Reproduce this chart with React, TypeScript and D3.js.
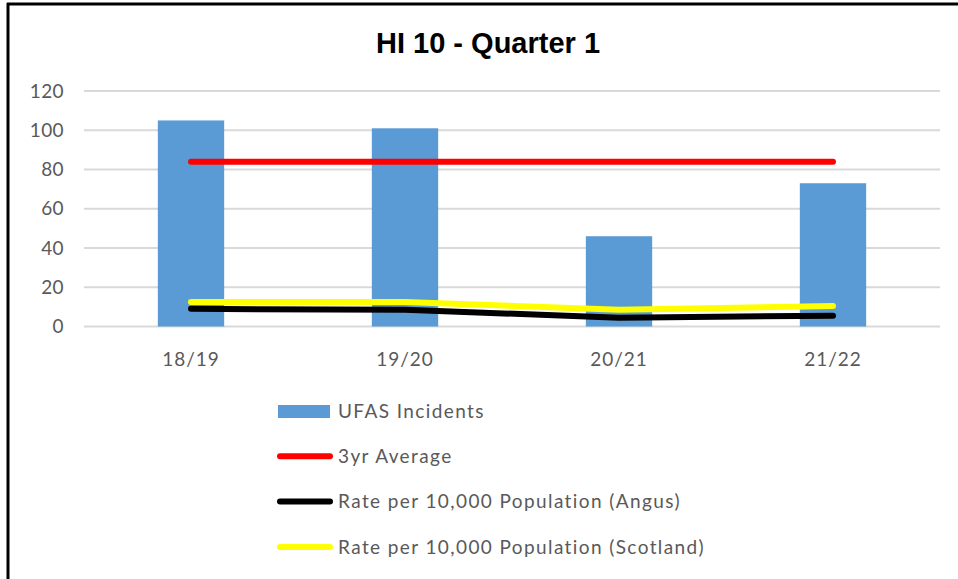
import * as d3 from 'd3'

const categories = ['18/19', '19/20', '20/21', '21/22']
const ufasIncidents = [105, 101, 46, 73]
const threeYrAverage = [84, 84, 84, 84]
const rateAngus = [9, 8.5, 4.5, 5.5]
const rateScotland = [12.5, 12.5, 8.5, 10.5]
const yTicks = [0, 20, 40, 60, 80, 100, 120]

const legendItems = [
  { label: 'UFAS Incidents', kind: 'bar', color: '#5B9BD5' },
  { label: '3yr Average', kind: 'line', color: '#FF0000' },
  { label: 'Rate per 10,000 Population (Angus)', kind: 'line', color: '#000000' },
  { label: 'Rate per 10,000 Population (Scotland)', kind: 'line', color: '#FFFF00' }
]

const App = () => {
  const width = 958
  const height = 579
  const plot = { left: 84, right: 940, top: 91, bottom: 326.5 }

  const x = d3.scaleBand().domain(categories).range([plot.left, plot.right]).paddingInner(0.69).paddingOuter(0.345)
  const y = d3.scaleLinear().domain([0, 120]).range([plot.bottom, plot.top])
  const cx = (c: string) => (x(c) as number) + x.bandwidth() / 2

  const line = d3.line<number>()
    .x((_, i) => cx(categories[i]))
    .y(d => y(d))

  const font = 'Lato, "Open Sans", sans-serif'

  return (
    <svg width={width} height={height} style={{ position: 'absolute', left: 0, top: 0, background: '#fff' }}>
      <rect x={0} y={0} width={width} height={height} fill="#fff" />
      <line x1={8} x2={8} y1={3} y2={height} stroke="#000" strokeWidth={3} />
      <line x1={7} x2={width} y1={4} y2={4} stroke="#000" strokeWidth={3} />

      <text x={488} y={53} textAnchor="middle" fontFamily='"Liberation Sans Narrow", "Liberation Sans", Arial, sans-serif'
        fontWeight="bold" fontSize={29} fill="#000">HI 10 - Quarter 1</text>

      {yTicks.map(t => (
        <g key={t}>
          <line x1={plot.left} x2={plot.right} y1={y(t)} y2={y(t)} stroke="#D9D9D9" strokeWidth={2} />
          <text x={64} y={y(t)} dy="0.35em" textAnchor="end" fontFamily={font} fontSize={19} letterSpacing={0.4} fill="#595959">{t}</text>
        </g>
      ))}

      {categories.map((c, i) => (
        <g key={c}>
          <rect x={x(c)} y={y(ufasIncidents[i])} width={x.bandwidth()} height={y(0) - y(ufasIncidents[i])} fill="#5B9BD5" />
          <text x={cx(c)} y={366} textAnchor="middle" fontFamily={font} fontSize={19} letterSpacing={1} fill="#595959">{c}</text>
        </g>
      ))}

      <path d={line(threeYrAverage) ?? ''} fill="none" stroke="#FF0000" strokeWidth={6} strokeLinecap="round" strokeLinejoin="round" />
      <path d={line(rateAngus) ?? ''} fill="none" stroke="#000000" strokeWidth={6} strokeLinecap="round" strokeLinejoin="round" />
      <path d={line(rateScotland) ?? ''} fill="none" stroke="#FFFF00" strokeWidth={6} strokeLinecap="round" strokeLinejoin="round" />

      {legendItems.map((item, i) => {
        const ly = 411 + i * 45.3
        return (
          <g key={item.label}>
            {item.kind === 'bar'
              ? <rect x={278} y={ly - 6} width={52} height={13} fill={item.color} />
              : <line x1={280} x2={330} y1={ly} y2={ly} stroke={item.color} strokeWidth={6} strokeLinecap="round" />}
            <text x={338} y={ly} dy="0.35em" fontFamily={font} fontSize={19} letterSpacing={1.4} fill="#595959">{item.label}</text>
          </g>
        )
      })}
    </svg>
  )
}

export default App
